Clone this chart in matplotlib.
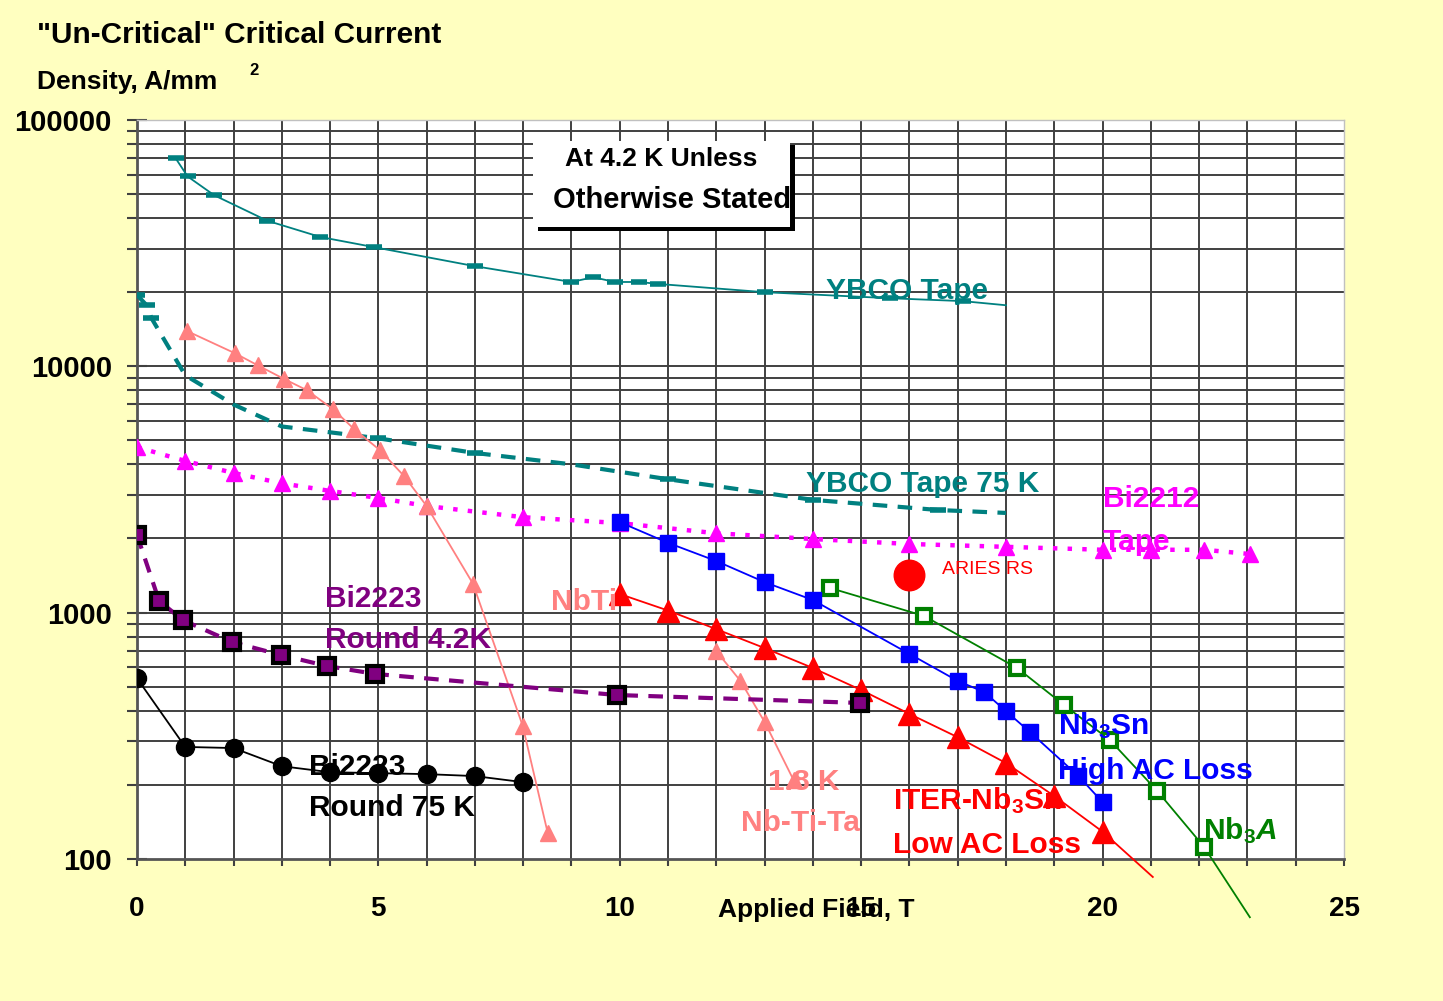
#!/usr/bin/python3

import matplotlib
matplotlib.use('Agg')
import matplotlib.pyplot as plt
from matplotlib.patches import Rectangle
from matplotlib.ticker import FixedLocator, NullFormatter

plt.rcParams['font.family'] = ['Liberation Sans', 'DejaVu Sans']
plt.rcParams['mathtext.fontset'] = 'custom'
plt.rcParams['mathtext.rm'] = 'Liberation Sans:bold'
plt.rcParams['mathtext.bf'] = 'Liberation Sans:bold'
plt.rcParams['mathtext.it'] = 'Liberation Sans:italic:bold'
plt.rcParams['mathtext.default'] = 'rm'

# --- data (field in T, Jc in A/mm^2) ---
ybco_x = [0.8, 1.05, 1.6, 2.7, 3.8, 4.9, 7.0, 9.0, 9.45, 9.9, 10.4, 10.8, 13.0, 15.6, 17.1, 18.0]
ybco_y = [70000, 59000, 49500, 39000, 33500, 30500, 25500, 22000, 23000, 22000, 22000, 21600, 20000, 18900, 18400, 17700]

ybco75_x = [0, 0.2, 0.3, 1.0, 2.0, 3.0, 4.5, 5.0, 7.0, 9.0, 11.0, 14.0, 16.6, 18.0]
ybco75_y = [19500, 17700, 15700, 9200, 7000, 5700, 5250, 5100, 4450, 4000, 3480, 2870, 2610, 2540]

bi2212_x = [0, 1, 2, 3, 4, 5, 6, 8, 10, 12, 14, 16, 18, 20, 21, 22.1, 23.05]
bi2212_y = [4700, 4130, 3690, 3350, 3120, 2920, 2710, 2440, 2310, 2100, 1990, 1900, 1850, 1800, 1800, 1800, 1730]

nbti_x = [1.04, 2.03, 2.5, 3.04, 3.52, 4.06, 4.5, 5.03, 5.53, 6.0, 6.96, 7.99, 8.51]
nbti_y = [13900, 11300, 10100, 8900, 8000, 6700, 5560, 4570, 3590, 2710, 1310, 347, 127]

nbtita_x = [12, 12.5, 13, 13.6]
nbtita_y = [698, 528, 360, 209]

iter_x = [10, 11, 12, 13, 14, 15, 16, 17, 18, 19, 20, 21.04]
iter_y = [1190, 1020, 857, 718, 596, 485, 388, 312, 245, 180, 129, 84.5]

aries_x = [16.0]
aries_y = [1420]

nb3sn_x = [10, 11, 12, 13, 14, 16, 17, 17.55, 18, 18.5, 19.5, 20]
nb3sn_y = [2330, 1920, 1620, 1330, 1125, 680, 528, 476, 398, 327, 217, 170]

nb3al_x = [14.35, 16.3, 18.23, 19.2, 20.15, 21.13, 22.1, 23.05]
nb3al_y = [1260, 970, 596, 422, 304, 189, 112, 58]

bi2223_42_x = [0, 0.46, 0.95, 1.97, 2.98, 3.94, 4.93, 9.94, 14.97]
bi2223_42_y = [2070, 1115, 933, 760, 673, 607, 564, 463, 430]

bi2223_75_x = [0, 1, 2, 3, 4, 5, 6, 7, 8]
bi2223_75_y = [542, 285, 282, 238, 225, 223, 221, 217, 205]

x_ticks = list(range(0, 26))
y_ticks = [100, 1000, 10000, 100000]
y_ticklabels = ['100', '1000', '10000', '100000']

TEAL = '#008080'
MAGENTA = '#FF00FF'
SALMON = '#FF8080'
RED = '#FF0000'
BLUE = '#0000FF'
GREEN = '#008000'
PURPLE = '#800080'
BG = '#FFFFC0'
GRID = '#404040'

fig = plt.figure(figsize=(14.43, 10.01), dpi=100, facecolor=BG)
ax = fig.add_axes([0.0949, 0.1419, 0.8365, 0.7382])
ax.set_facecolor('white')
ax.set_yscale('log')
ax.set_xlim(0, 25)
ax.set_ylim(100, 100000)

# grid (every tesla, every log minor step)
for gx in x_ticks[1:-1]:
    ax.axvline(gx, color=GRID, lw=1.4, zorder=0.5)
for dec in y_ticks[:-1]:
    for m in range(1, 10):
        if dec * m > 100:
            ax.axhline(dec * m, color=GRID, lw=1.4, zorder=0.5)

ax.spines['left'].set_color('#555555')
ax.spines['bottom'].set_color('#555555')
ax.spines['left'].set_linewidth(2)
ax.spines['bottom'].set_linewidth(2)
ax.spines['top'].set_color('#c0c0c0')
ax.spines['right'].set_color('#c0c0c0')
ax.spines['top'].set_linewidth(1)
ax.spines['right'].set_linewidth(1)

ax.xaxis.set_major_locator(FixedLocator(x_ticks))
ax.set_xticklabels([str(t) if t % 5 == 0 else '' for t in x_ticks], fontsize=20, fontweight='bold')
ax.yaxis.set_major_locator(FixedLocator(y_ticks))
ax.set_yticklabels(y_ticklabels, fontsize=21, fontweight='bold')
ax.yaxis.set_minor_locator(FixedLocator([d * m for d in y_ticks[:-1] for m in range(2, 10)]))
ax.yaxis.set_minor_formatter(NullFormatter())
ax.tick_params(axis='x', direction='out', length=5, width=1.5, color=GRID, pad=22)
ax.tick_params(axis='y', which='major', direction='inout', length=14, width=1.5, color=GRID, pad=11)
ax.tick_params(axis='y', which='minor', direction='out', length=7, width=1.5, color=GRID)

# series
ax.plot(ybco_x, ybco_y, color=TEAL, lw=1.3, marker='_', ms=12, mew=4,
        markevery=list(range(len(ybco_x) - 1)), zorder=3)
ax.plot(ybco75_x, ybco75_y, color=TEAL, lw=3, linestyle=(0, (3.5, 2.5)), marker='_', ms=12, mew=4,
        markevery=[0, 1, 2, 7, 8, 10, 11, 12], zorder=3)
ax.plot(bi2212_x, bi2212_y, color=MAGENTA, lw=3.2, linestyle=(0, (1, 2.3)), marker='^', ms=11,
        mec=MAGENTA, mfc=MAGENTA, zorder=3)
ax.plot(nbti_x, nbti_y, color=SALMON, lw=1.3, marker='^', ms=12, mec=SALMON, mfc=SALMON, zorder=3)
ax.plot(nbtita_x, nbtita_y, color=SALMON, lw=1.3, marker='^', ms=12, mec=SALMON, mfc=SALMON, zorder=3)
ax.plot(nb3al_x, nb3al_y, color=GREEN, lw=1.3, marker='s', ms=10, mew=3, mec=GREEN, mfc='white',
        markevery=list(range(len(nb3al_x) - 1)), clip_on=False, zorder=3)
ax.plot(nb3sn_x, nb3sn_y, color=BLUE, lw=1.3, marker='s', ms=11, mec=BLUE, mfc=BLUE, zorder=3)
ax.plot(iter_x, iter_y, color=RED, lw=1.3, marker='^', ms=16, mec=RED, mfc=RED,
        markevery=list(range(len(iter_x) - 1)), clip_on=False, zorder=3)
ax.plot(aries_x, aries_y, linestyle='none', marker='o', ms=22, mec=RED, mfc=RED, zorder=3)
ax.plot(bi2223_42_x, bi2223_42_y, color=PURPLE, lw=3, linestyle=(0, (3.5, 2.5)), marker='s', ms=11,
        mew=3, mec='black', mfc=PURPLE, zorder=3)
ax.plot(bi2223_75_x, bi2223_75_y, color='black', lw=1.3, marker='o', ms=13, mec='black', mfc='black', zorder=3)

# series labels (baseline anchored)
lbl = dict(fontsize=21.5, fontweight='bold', ha='left', va='baseline', zorder=6)
ax.text(14.27, 18760, 'YBCO Tape', color=TEAL, **lbl)
ax.text(13.86, 3088, 'YBCO Tape 75 K', color=TEAL, **lbl)
ax.text(20.0, 2684, 'Bi2212', color=MAGENTA, **lbl)
ax.text(20.0, 1795, 'Tape', color=MAGENTA, **lbl)
ax.text(3.89, 1053, 'Bi2223', color=PURPLE, **lbl)
ax.text(3.89, 718, 'Round 4.2K', color=PURPLE, **lbl)
ax.text(3.56, 219, 'Bi2223', color='black', **lbl)
ax.text(3.56, 149.3, 'Round 75 K', color='black', **lbl)
ax.text(8.57, 1025, 'NbTi', color=SALMON, **lbl)
ax.text(13.07, 190.5, '1.8 K', color=SALMON, **lbl)
ax.text(12.51, 129.8, 'Nb-Ti-Ta', color=SALMON, **lbl)
ax.text(15.66, 159.4, 'ITER-Nb$_3$Sn', color=RED, **lbl)
ax.text(15.66, 105.7, 'Low AC Loss', color=RED, **lbl)
ax.text(19.08, 321.4, 'Nb$_3$Sn', color=BLUE, **lbl)
ax.text(19.08, 211, 'High AC Loss', color=BLUE, **lbl)
ax.text(22.08, 120.4, r'Nb$_3$$\mathit{A}$', color=GREEN, **lbl)
ax.text(16.67, 1434, 'ARIES RS', color=RED, fontsize=14, ha='left', va='baseline', zorder=6)

# note box with shadow
fig.add_artist(Rectangle((0.3725, 0.7692), 0.1781, 0.0859, transform=fig.transFigure,
                         facecolor='black', edgecolor='none', zorder=5))
fig.add_artist(Rectangle((0.3694, 0.7732), 0.1781, 0.0859, transform=fig.transFigure,
                         facecolor='white', edgecolor='none', zorder=6))
fig.text(0.458, 0.841, 'At 4.2 K Unless', fontsize=19, fontweight='bold', ha='center', va='center', zorder=7)
fig.text(0.466, 0.800, 'Otherwise Stated', fontsize=21, fontweight='bold', ha='center', va='center', zorder=7)

# titles
fig.text(0.0256, 0.965, '"Un-Critical" Critical Current', fontsize=21.4, fontweight='bold', ha='left', va='center')
fig.text(0.0256, 0.918, 'Density, A/mm', fontsize=19, fontweight='bold', ha='left', va='center')
fig.text(0.1725, 0.930, '2', fontsize=12, fontweight='bold', ha='left', va='center')
fig.text(0.5655, 0.084, 'Applied Field, T', fontsize=19, fontweight='bold', ha='center', va='baseline')

fig.savefig('out.png', dpi=100, facecolor=BG)
